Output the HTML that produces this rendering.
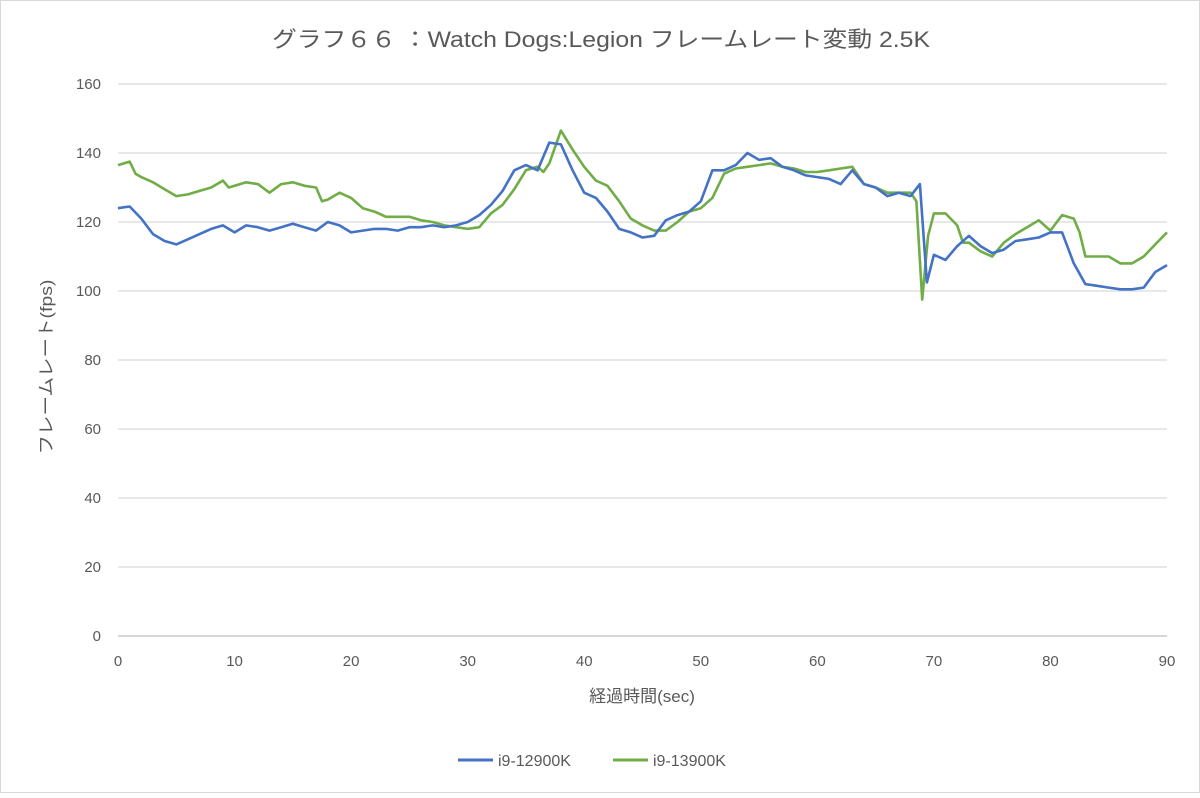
<!DOCTYPE html>
<html><head><meta charset="utf-8">
<style>
body{margin:0;background:#fff;}
svg text{font-family:"Liberation Sans","Noto Sans CJK JP",sans-serif;fill:#595959;}
</style></head>
<body>
<svg id="chart" width="1200" height="793" viewBox="0 0 1200 793" xmlns="http://www.w3.org/2000/svg">
<rect x="0.5" y="0.5" width="1199" height="792" fill="#fff" stroke="#d9d9d9"/>
<text x="272" y="47" font-size="22" textLength="658" lengthAdjust="spacingAndGlyphs">グラフ６６ ：Watch Dogs:Legion フレームレート変動 2.5K</text>
<g id="grid"></g>
<g id="yticks"></g>
<g id="xticks"></g>
<g id="series"></g>
<text transform="translate(52,367) rotate(-90)" font-size="17" text-anchor="middle" textLength="175" lengthAdjust="spacingAndGlyphs">フレームレート(fps)</text>
<text x="642" y="702" font-size="17" text-anchor="middle">経過時間(sec)</text>
<g>
<line x1="458" y1="760" x2="493" y2="760" stroke="#4472c4" stroke-width="3"/>
<text x="498" y="766" font-size="16">i9-12900K</text></g>
<g>
<line x1="613" y1="760" x2="648" y2="760" stroke="#70ad47" stroke-width="3"/>
<text x="653" y="766" font-size="16">i9-13900K</text></g>
</svg>
<script>
const yTicks=[0,20,40,60,80,100,120,140,160];
const xTicks=[0,10,20,30,40,50,60,70,80,90];
const seriesNames=["i9-12900K","i9-13900K"];
const blueT=[0,1,2,3,4,5,6,7,8,9,10,11,12,13,14,15,16,17,18,19,20,21,22,23,24,25,26,27,28,29,30,31,32,33,34,35,36,37,38,39,40,41,42,43,44,45,46,47,48,49,50,51,52,53,54,55,56,57,58,59,60,61,62,63,64,65,66,67,68,68.8,69.4,70,71,72,73,74,75,76,77,78,79,80,81,82,83,84,85,86,87,88,89,90];
const blueV=[124,124.5,121,116.5,114.5,113.5,115,116.5,118,119,117,119,118.5,117.5,118.5,119.5,118.5,117.5,120,119,117,117.5,118,118,117.5,118.5,118.5,119,118.5,119,120,122,125,129,135,136.5,135,143,142.5,135,128.5,127,123,118,117,115.5,116,120.5,122,123,126,135,135,136.5,140,138,138.5,136,135,133.5,133,132.5,131,135,131,130,127.5,128.5,127.5,131,102.5,110.5,109,113,116,113,111,112,114.5,115,115.5,117,117,108,102,101.5,101,100.5,100.5,101,105.5,107.5];
const greenT=[0,1,1.5,2,3,4,5,6,7,8,9,9.5,10,11,12,13,14,15,16,17,17.5,18,19,20,21,22,23,24,25,26,27,28,29,30,31,32,33,34,35,36,36.5,37,38,39,40,41,42,43,44,45,46,47,48,49,50,51,52,53,54,55,56,57,58,59,60,61,62,63,64,65,66,67,68,68.5,69,69.5,70,71,72,72.5,73,74,75,76,77,78,79,80,81,82,82.5,83,84,85,86,87,88,89,90];
const greenV=[136.5,137.5,134,133,131.5,129.5,127.5,128,129,130,132,130,130.5,131.5,131,128.5,131,131.5,130.5,130,126,126.5,128.5,127,124,123,121.5,121.5,121.5,120.5,120,119,118.5,118,118.5,122.5,125,129.5,135,136,134.5,137,146.5,141,136,132,130.5,126,121,119,117.5,117.5,120,123,124,127,134,135.5,136,136.5,137,136,135.5,134.5,134.5,135,135.5,136,131,130,128.5,128.5,128.5,126,97.5,116,122.5,122.5,119,114,114,111.5,110,114,116.5,118.5,120.5,117.5,122,121,117,110,110,110,108,108,110,113.5,117];
const NS="http://www.w3.org/2000/svg";
const X0=118,X1=1167,Y0=636,Y1=84;
function xs(t){return X0+(t-0)/(90-0)*(X1-X0);}
function ys(v){return Y0-(v-0)/(160-0)*(Y0-Y1);}
const grid=document.getElementById('grid'),yt=document.getElementById('yticks'),xt=document.getElementById('xticks'),ser=document.getElementById('series');
yTicks.forEach(v=>{
 const l=document.createElementNS(NS,'line');
 l.setAttribute('x1',X0);l.setAttribute('x2',X1);l.setAttribute('y1',ys(v));l.setAttribute('y2',ys(v));
 l.setAttribute('stroke',v===0?'#bfbfbf':'#d9d9d9');l.setAttribute('stroke-width','1.3');
 
 
 grid.appendChild(l);
 const t=document.createElementNS(NS,'text');
 t.setAttribute('x',101);t.setAttribute('y',ys(v)+5);t.setAttribute('text-anchor','end');t.setAttribute('font-size','15');
 t.textContent=v;
 
 
 yt.appendChild(t);
});
xTicks.forEach(v=>{
 const t=document.createElementNS(NS,'text');
 t.setAttribute('x',xs(v));t.setAttribute('y',666);t.setAttribute('text-anchor','middle');t.setAttribute('font-size','15');
 t.textContent=v;
 
 
 xt.appendChild(t);
});
function drawLine(T,V,color,name){
 const p=document.createElementNS(NS,'polyline');
 p.setAttribute('points',T.map((t,i)=>xs(t).toFixed(1)+','+ys(V[i]).toFixed(1)).join(' '));
 p.setAttribute('fill','none');p.setAttribute('stroke',color);p.setAttribute('stroke-width','2.6');p.setAttribute('stroke-linejoin','round');
 
 
 ser.appendChild(p);
}
drawLine(greenT,greenV,'#70ad47','line-i9-13900k');
drawLine(blueT,blueV,'#4472c4','line-i9-12900k');
</script>
</body></html>
